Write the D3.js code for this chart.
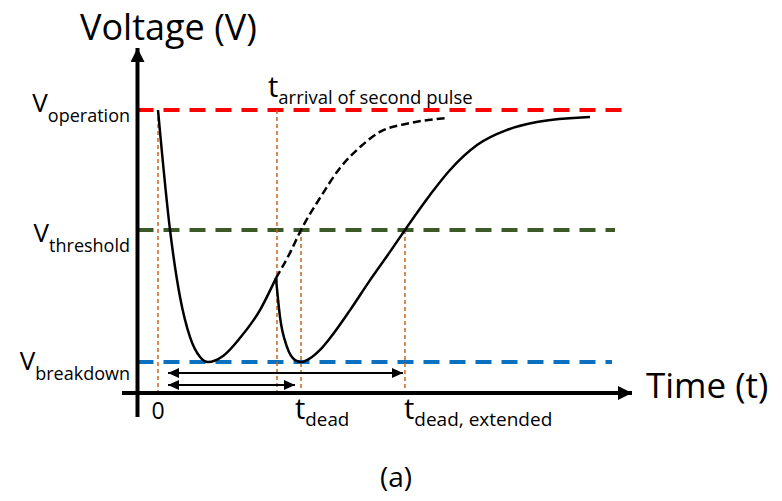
<!DOCTYPE html>
<html>
  <head>
    <meta charset="utf-8">
    <style>
    body { margin: 0; background: #fff; }
    text { font-family: "Open Sans", sans-serif; fill: #000; }
    </style>
  </head>
  <body>
    <div id="chart"></div>
    <script src="https://d3js.org/d3.v7.min.js"></script>
    <script>

// voltage levels (normalised: breakdown = 0, operation = 1)
var levelNames = ["operation", "threshold", "breakdown"];
var levelValues = [1, 0.524, 0];
var levelColors = ["#ff0000", "#3b5a27", "#0a70c0"];

// time marks (arbitrary units, t_dead = 10)
var tStart = 0, tArrival = 8.32, tDead = 10, tDeadExt = 17.27;

// first pulse: recovery interrupted at the second pulse
var pulse1T = [0, 0.84, 1.54, 2.24, 2.94, 3.50, 4.55, 5.73, 7.13, 8.25];
var pulse1V = [1, 0.524, 0.258, 0.099, 0.020, 0, 0.024, 0.095, 0.206, 0.333];

// second pulse and its full recovery
var pulse2T = [8.25, 8.53, 9.02, 9.58, 10.0, 10.77, 11.33, 12.03, 13.43, 14.83, 16.22, 17.27, 19.02, 20.42, 22.31, 24.41, 26.50, 30.21];
var pulse2V = [0.333, 0.179, 0.060, 0.008, 0, 0.020, 0.048, 0.095, 0.206, 0.325, 0.437, 0.524, 0.663, 0.762, 0.861, 0.921, 0.952, 0.972];

// recovery without a second pulse
var freeT = [8.25, 9.23, 10.0, 11.33, 12.73, 14.13, 15.52, 17.62, 20.28];
var freeV = [0.333, 0.433, 0.524, 0.651, 0.770, 0.853, 0.913, 0.948, 0.968];

var width = 782, height = 501;

var svg = d3.select("#chart").append("svg")
    .attr("width", width)
    .attr("height", height);

var x = d3.scaleLinear().domain([0, 10]).range([158, 301]);
var y = d3.scaleLinear().domain([0, 1]).range([362, 110]);

var axisX = 137.5, axisY = 393;

var defs = svg.append("defs");
function marker(id, len, half) {
  defs.append("marker")
      .attr("id", id)
      .attr("markerUnits", "userSpaceOnUse")
      .attr("viewBox", "0 0 " + len + " " + (half * 2))
      .attr("refX", len).attr("refY", half)
      .attr("markerWidth", len).attr("markerHeight", half * 2)
      .attr("orient", "auto-start-reverse")
    .append("path")
      .attr("d", "M0,0L" + len + "," + half + "L0," + (half * 2) + "Z")
      .attr("fill", "#000");
}
marker("head-big", 14, 7);
marker("head-small", 11, 5);

// horizontal levels
var levelEnd = [625, 615, 612];
svg.selectAll(".level")
    .data(levelValues)
  .enter().append("line")
    .attr("x1", axisX)
    .attr("x2", function(d, i) { return levelEnd[i]; })
    .attr("y1", function(d) { return y(d); })
    .attr("y2", function(d) { return y(d); })
    .attr("stroke", function(d, i) { return levelColors[i]; })
    .attr("stroke-width", 4)
    .attr("stroke-dasharray", "16,10");

// vertical guides
var guides = [
  {t: tStart, v: levelValues[0]},
  {t: tArrival, v: levelValues[0]},
  {t: tDead, v: levelValues[1]},
  {t: tDeadExt, v: levelValues[1]}
];
svg.selectAll(".guide")
    .data(guides)
  .enter().append("line")
    .attr("x1", function(d) { return x(d.t); })
    .attr("x2", function(d) { return x(d.t); })
    .attr("y1", function(d) { return y(d.v); })
    .attr("y2", axisY)
    .attr("stroke", "#c8651f")
    .attr("stroke-width", 1.5)
    .attr("stroke-dasharray", "4,3");

// curves
var line = d3.line()
    .x(function(d) { return x(d[0]); })
    .y(function(d) { return y(d[1]); })
    .curve(d3.curveMonotoneX);

function pairs(ts, vs) { return ts.map(function(t, i) { return [t, vs[i]]; }); }

svg.append("path")
    .attr("d", line(pairs(freeT, freeV)))
    .attr("fill", "none").attr("stroke", "#000")
    .attr("stroke-width", 2.5).attr("stroke-dasharray", "8,4");

[pairs(pulse1T, pulse1V), pairs(pulse2T, pulse2V)].forEach(function(p) {
  svg.append("path")
      .attr("d", line(p))
      .attr("fill", "none").attr("stroke", "#000")
      .attr("stroke-width", 2.5);
});

// axes
svg.append("line")
    .attr("x1", axisX).attr("x2", axisX)
    .attr("y1", 417).attr("y2", 48)
    .attr("stroke", "#000").attr("stroke-width", 4)
    .attr("marker-end", "url(#head-big)");
svg.append("line")
    .attr("x1", 122).attr("x2", 632)
    .attr("y1", axisY).attr("y2", axisY)
    .attr("stroke", "#000").attr("stroke-width", 4)
    .attr("marker-end", "url(#head-big)");

// dead time arrows
[{t: tDeadExt, pad: 2, yy: 373}, {t: tDead, pad: 6, yy: 385}].forEach(function(a) {
  svg.append("line")
      .attr("x1", x(tStart) + 10).attr("x2", x(a.t) - a.pad)
      .attr("y1", a.yy).attr("y2", a.yy)
      .attr("stroke", "#000").attr("stroke-width", 2)
      .attr("marker-start", "url(#head-small)")
      .attr("marker-end", "url(#head-small)");
});

// text
svg.append("text").attr("x", 80).attr("y", 40)
    .style("font-size", "36px").text("Voltage (V)");
svg.append("text").attr("x", 646).attr("y", 398)
    .style("font-size", "35px").text("Time (t)");
svg.append("text").attr("x", 396).attr("y", 487)
    .attr("text-anchor", "middle")
    .style("font-size", "28px").text("(a)");

var levelBase = [112, 242, 370];
levelNames.forEach(function(name, i) {
  var t = svg.append("text")
      .attr("x", 130).attr("y", levelBase[i])
      .attr("text-anchor", "end");
  t.append("tspan").style("font-size", "26px").text("V");
  t.append("tspan").attr("dy", 10).style("font-size", "18px").text(name);
});

svg.append("text").attr("x", x(tStart)).attr("y", 419)
    .attr("text-anchor", "middle")
    .style("font-size", "23px").text("0");

function tLabel(xp, base, sub, subSize) {
  var t = svg.append("text").attr("x", xp).attr("y", base);
  t.append("tspan").style("font-size", "29px").text("t");
  t.append("tspan").attr("dy", 7).style("font-size", subSize + "px").text(sub);
}
tLabel(x(tArrival) - 9, 97, "arrival of second pulse", 18.5);
tLabel(x(tDead) - 6, 419, "dead", 18.8);
tLabel(x(tDeadExt) - 1, 419, "dead, extended", 19);

    </script>
  </body>
</html>
